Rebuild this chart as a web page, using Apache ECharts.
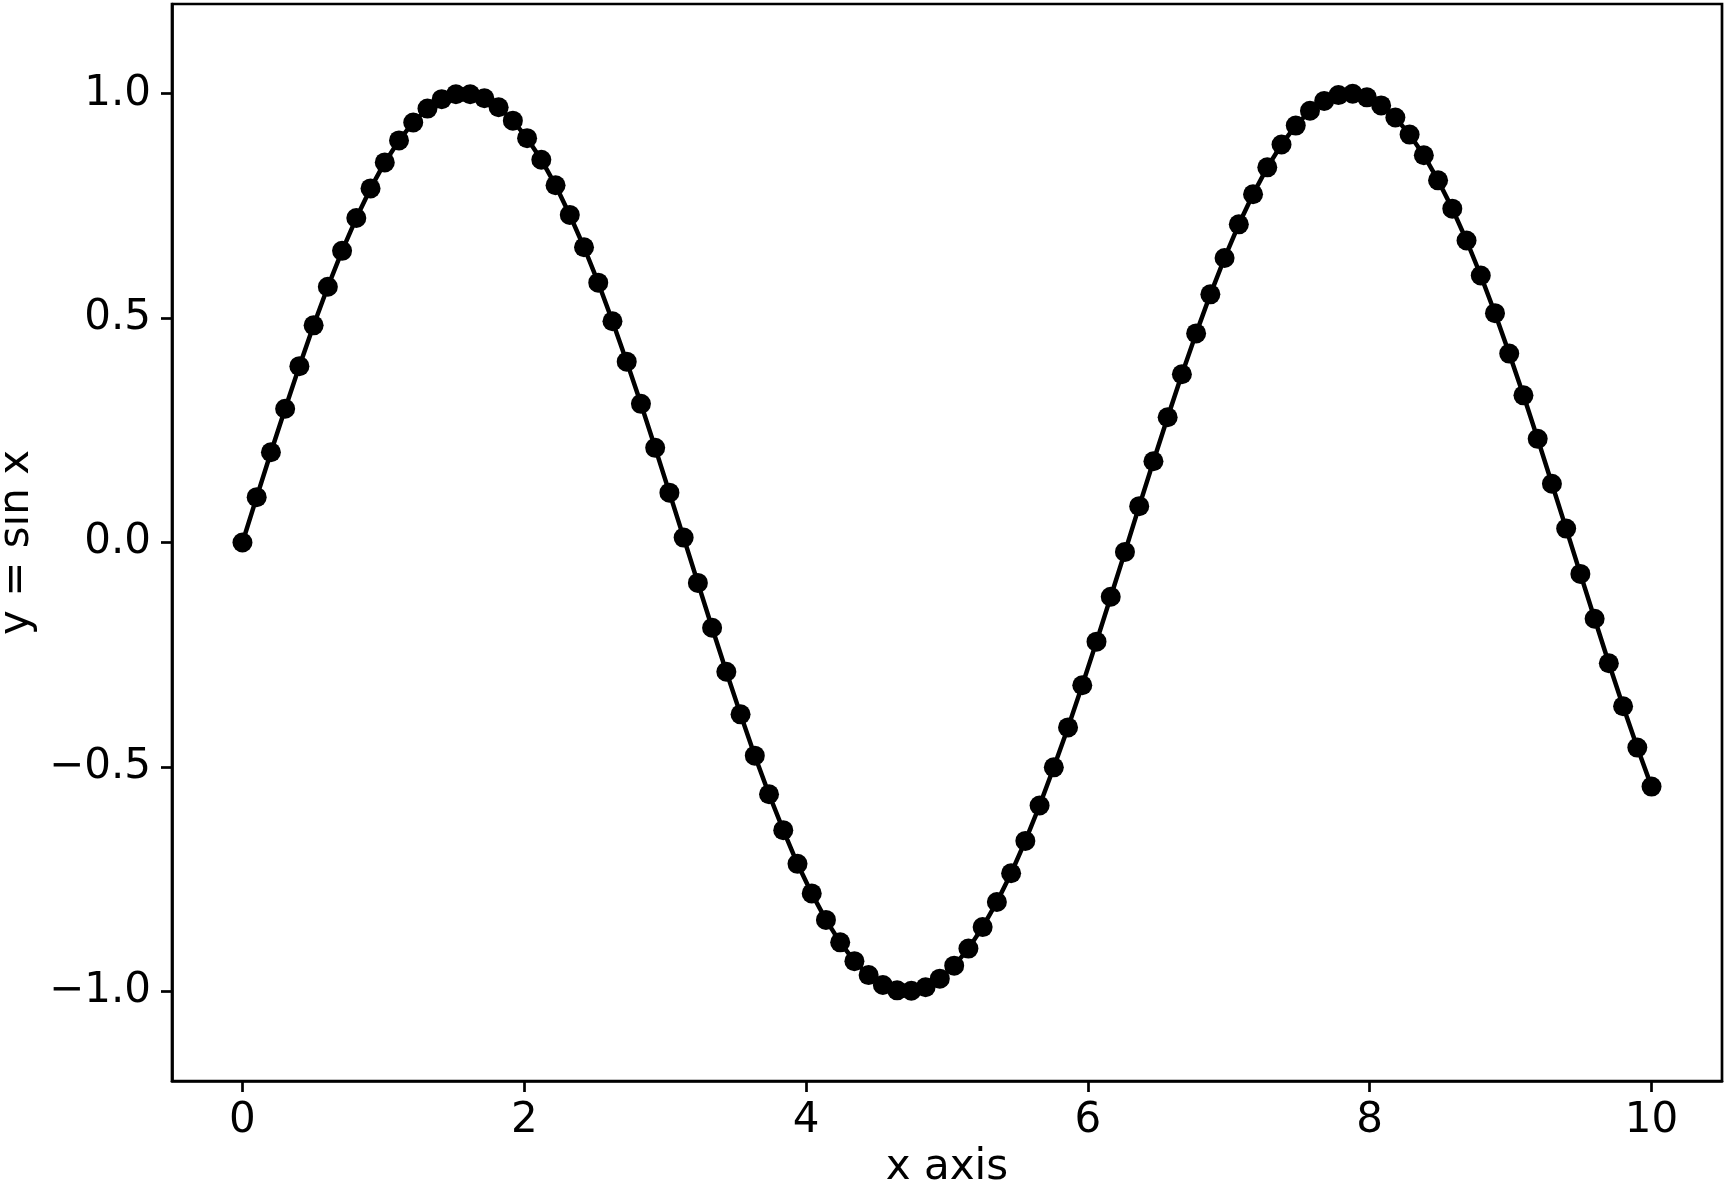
<!DOCTYPE html>
<html>
<head>
<meta charset="utf-8">
<script src="https://cdn.jsdelivr.net/npm/echarts@6/dist/echarts.min.js"></script>
<style>
html,body{margin:0;padding:0;background:#fff;}
#c{width:1725px;height:1186px;}
</style>
</head>
<body>
<div id="c"></div>
<script>
const xValues = [0,0.101,0.202,0.303,0.404,0.505,0.606,0.707,0.808,0.909,
1.010,1.111,1.212,1.313,1.414,1.515,1.616,1.717,1.818,1.919,
2.020,2.121,2.222,2.323,2.424,2.525,2.626,2.727,2.828,2.929,
3.030,3.131,3.232,3.333,3.434,3.535,3.636,3.737,3.838,3.939,
4.040,4.141,4.242,4.343,4.444,4.545,4.646,4.747,4.848,4.949,
5.051,5.152,5.253,5.354,5.455,5.556,5.657,5.758,5.859,5.960,
6.061,6.162,6.263,6.364,6.465,6.566,6.667,6.768,6.869,6.970,
7.071,7.172,7.273,7.374,7.475,7.576,7.677,7.778,7.879,7.980,
8.081,8.182,8.283,8.384,8.485,8.586,8.687,8.788,8.889,8.990,
9.091,9.192,9.293,9.394,9.495,9.596,9.697,9.798,9.899,10.000];
const yValues = [0.000,0.101,0.201,0.298,0.393,0.484,0.570,0.650,0.723,0.789,
0.847,0.896,0.936,0.967,0.988,0.999,0.999,0.990,0.970,0.940,
0.901,0.853,0.796,0.730,0.658,0.579,0.493,0.403,0.309,0.211,
0.111,0.011,-0.090,-0.190,-0.288,-0.383,-0.475,-0.561,-0.641,-0.716,
-0.782,-0.841,-0.891,-0.933,-0.964,-0.986,-0.998,-0.999,-0.991,-0.972,
-0.943,-0.905,-0.857,-0.801,-0.737,-0.665,-0.586,-0.501,-0.412,-0.318,
-0.221,-0.121,-0.021,0.081,0.181,0.279,0.375,0.466,0.553,0.634,
0.709,0.776,0.836,0.887,0.929,0.962,0.984,0.997,1.000,0.992,
0.974,0.947,0.909,0.863,0.807,0.744,0.673,0.595,0.511,0.421,
0.328,0.231,0.131,0.031,-0.070,-0.170,-0.269,-0.365,-0.457,-0.544];
const xTicks = [0,2,4,6,8,10];
const yTicks = [-1.0,-0.5,0.0,0.5,1.0];
const xName = 'x axis';
const yName = 'y = sin x';

const points = xValues.map((x,i)=>[x,yValues[i]]);
const fmtY = v => (v<0?'\u2212':'') + Math.abs(v).toFixed(1);
const fmtX = v => (v<0?'\u2212':'') + Math.abs(v).toFixed(0);
const FONT = 'DejaVu Sans';
const chart = echarts.init(document.getElementById('c'), null, {renderer:'canvas'});
chart.setOption({
  animation:false,
  backgroundColor:'#ffffff',
  grid:{left:172,right:3,top:4,bottom:105,show:true,borderColor:'#000',borderWidth:2.7,containLabel:false,outerBoundsMode:'none'},
  xAxis:{
    type:'value',min:-0.5,max:10.5,
    name:xName,nameLocation:'middle',nameGap:66,
    nameTextStyle:{fontFamily:FONT,fontSize:42,color:'#000'},
    axisLine:{show:true,onZero:false,lineStyle:{color:'#000',width:2.7}},
    axisTick:{show:true,length:11,customValues:xTicks,lineStyle:{color:'#000',width:2.7}},
    axisLabel:{customValues:xTicks,formatter:fmtX,margin:19,fontFamily:FONT,fontSize:42,color:'#000'},
    splitLine:{show:false}
  },
  yAxis:{
    type:'value',min:-1.2,max:1.2,
    name:yName,nameLocation:'middle',nameGap:124,nameRotate:90,
    nameTextStyle:{fontFamily:FONT,fontSize:42,color:'#000'},
    axisLine:{show:true,onZero:false,lineStyle:{color:'#000',width:2.7}},
    axisTick:{show:true,length:11,customValues:yTicks,lineStyle:{color:'#000',width:2.7}},
    axisLabel:{customValues:yTicks,formatter:fmtY,margin:21,fontFamily:FONT,fontSize:42,color:'#000'},
    splitLine:{show:false}
  },
  series:[{
    type:'line',data:points,
    symbol:'circle',symbolSize:20,showSymbol:true,
    itemStyle:{color:'#000',borderWidth:0},
    lineStyle:{color:'#000',width:4.5}
  }]
});
</script>
</body>
</html>
